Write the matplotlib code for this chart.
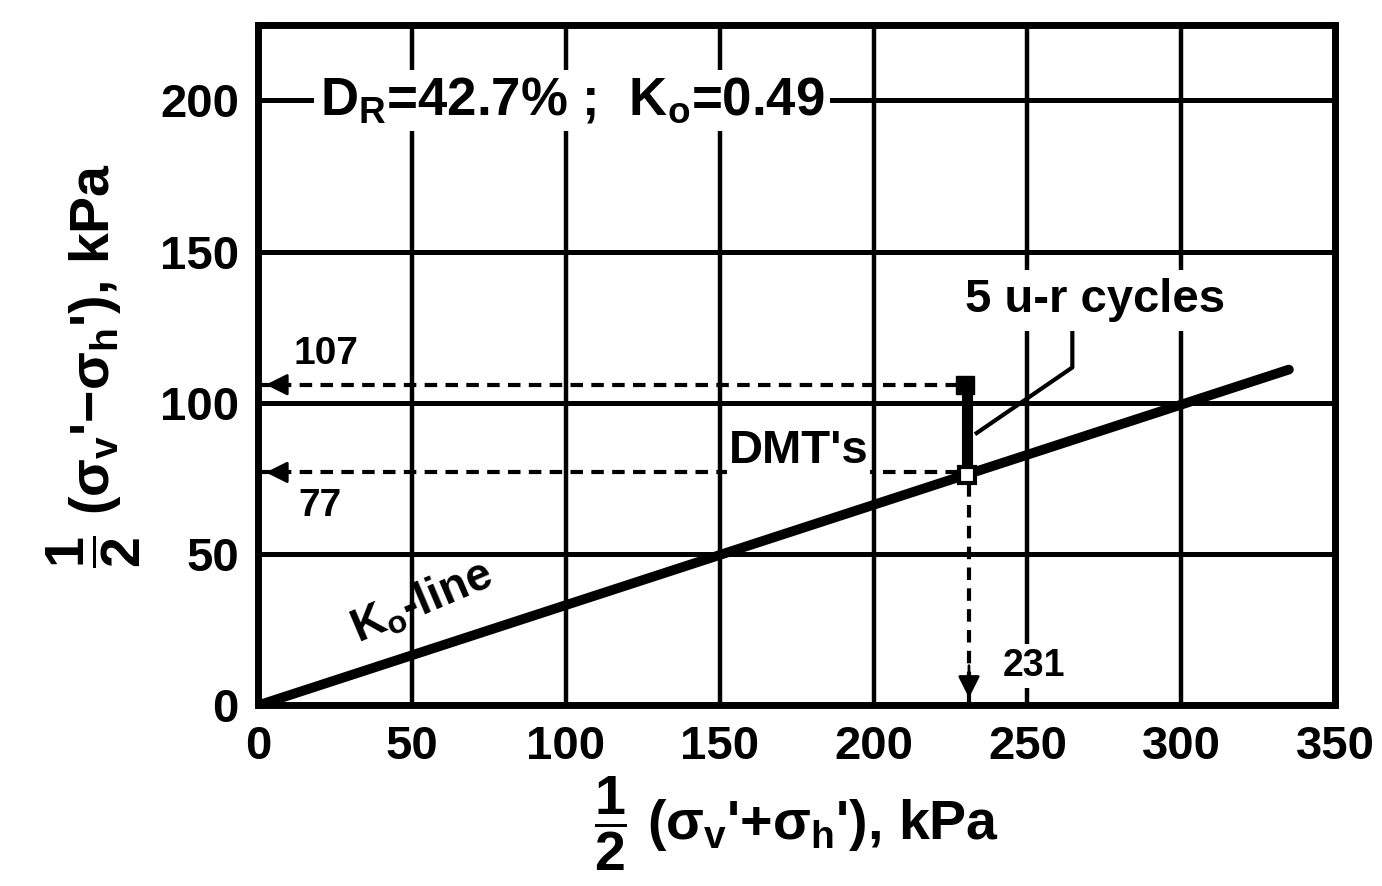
import matplotlib
matplotlib.use("Agg")
import matplotlib.pyplot as plt

# ---- data ----
x_ticks = [0, 50, 100, 150, 200, 250, 300, 350]
y_ticks = [0, 50, 100, 150, 200]
k0_x = [0, 335]
k0_y = [0, 111]
dmt_x = 231
dmt_y = 77
cycles_top_y = 106
cycles_label = "5 u-r cycles"
leader_x = [264.6, 264.6, 233.5]
leader_y = [126, 111.7, 90]

plt.rcParams['font.family'] = ['Liberation Sans', 'DejaVu Sans']
plt.rcParams['font.weight'] = 'bold'
plt.rcParams['mathtext.fontset'] = 'custom'
plt.rcParams['mathtext.rm'] = 'Liberation Sans:bold'
plt.rcParams['mathtext.it'] = 'Liberation Sans:bold'
plt.rcParams['mathtext.bf'] = 'Liberation Sans:bold'

fig = plt.figure(figsize=(13.82, 8.86), dpi=100)
ax = fig.add_axes([0.187, 0.204, 0.779, 0.768])
ax.set_xlim(0, 350)
ax.set_ylim(0, 225)

for s in ax.spines.values():
    s.set_linewidth(5)
ax.set_xticks(x_ticks)
ax.set_yticks(y_ticks)
ax.tick_params(length=0, labelsize=34, pad=14)
for lab in ax.get_xticklabels() + ax.get_yticklabels():
    lab.set_fontweight('bold')

# grid
for xv in x_ticks[1:-1]:
    ax.axvline(xv, color='k', lw=3.2, zorder=1)
for yv in y_ticks[1:]:
    ax.axhline(yv, color='k', lw=3.6, zorder=1)

# K0 line
ax.plot(k0_x, k0_y, color='k', lw=7, solid_capstyle='round', zorder=4)

# dashed projection lines
dash = dict(color='k', lw=3, ls=(0, (3, 2)), zorder=3)
ax.plot([0, dmt_x], [cycles_top_y, cycles_top_y], **dash)
ax.plot([0, dmt_x], [dmt_y, dmt_y], **dash)
ax.plot([dmt_x, dmt_x], [0, dmt_y], **dash)
arr = dict(arrowstyle='-|>,head_length=0.6,head_width=0.3', color='k', lw=2, mutation_scale=22)
ax.annotate('', xy=(1.5, cycles_top_y), xytext=(10, cycles_top_y), arrowprops=arr, zorder=5)
ax.annotate('', xy=(1.5, dmt_y), xytext=(10, dmt_y), arrowprops=arr, zorder=5)
ax.annotate('', xy=(dmt_x, 1.5), xytext=(dmt_x, 14), arrowprops=arr, zorder=5)

# u-r cycles bar and markers
ax.plot([dmt_x - 0.8, dmt_x - 0.8], [dmt_y + 3, cycles_top_y - 1], color='k', lw=8, zorder=5)
ax.plot([dmt_x - 1.2], [cycles_top_y], marker='s', ms=13, color='k', zorder=6)
ax.plot([dmt_x - 0.8], [dmt_y - 1], marker='s', ms=12, mfc='white', mec='k', mew=3, zorder=7)

# leader line
ax.plot(leader_x, leader_y, color='k', lw=3, zorder=5)

wb = dict(facecolor='white', edgecolor='none', pad=4)
ax.text(20, 200, r"D$_\mathregular{R}$=42.7% ;  K$_\mathregular{o}$=0.49", fontsize=38,
        fontweight='bold', va='center', ha='left', bbox=wb, zorder=6)
ax.text(272, 134, cycles_label, fontsize=34, fontweight='bold', ha='center', va='center',
        bbox=dict(facecolor='white', edgecolor='none', pad=6), zorder=6)
ax.text(175.5, 84, "DMT's", fontsize=34, fontweight='bold', ha='center', va='center',
        bbox=dict(facecolor='white', edgecolor='none', pad=1), zorder=6)
ax.text(22, 116, "107", fontsize=28, fontweight='bold', ha='center', va='center', zorder=6)
ax.text(20, 66, "77", fontsize=28, fontweight='bold', ha='center', va='center', zorder=6)
ax.text(252, 13, "231", fontsize=27, fontweight='bold', ha='center', va='center',
        bbox=dict(facecolor='white', edgecolor='none', pad=3), zorder=6)
ax.text(53, 34, r"K$_\mathregular{o}$-line", fontsize=33, fontweight='bold', ha='center',
        va='center', rotation=23, rotation_mode='anchor', zorder=6)

ax.set_xlabel(r"$\dfrac{1}{2}$ ($\sigma_v$'+$\sigma_h$'), kPa", fontsize=40, fontweight='bold', labelpad=4)
ax.set_ylabel(r"$\dfrac{1}{2}$ ($\sigma_v$'$-\sigma_h$'), kPa", fontsize=40, fontweight='bold', labelpad=12)

fig.savefig("out.png", dpi=100)
